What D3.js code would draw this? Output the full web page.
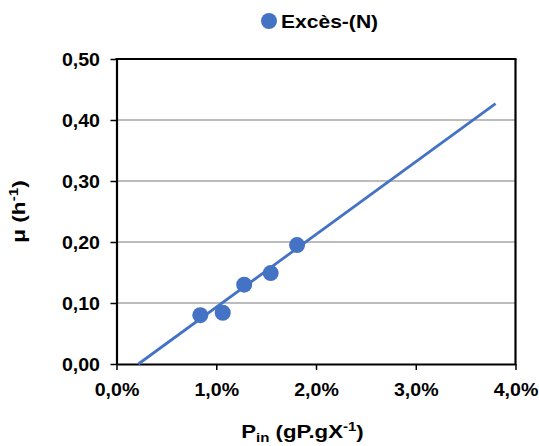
<!DOCTYPE html>
<html><head><meta charset="utf-8">
<script src="https://cdn.jsdelivr.net/npm/d3@7"></script>
<style>body{margin:0;background:#fff}svg{display:block}</style>
</head><body>
<script>
const pinX = [0.84, 1.065, 1.28, 1.546, 1.81];
const muY = [0.080, 0.084, 0.130, 0.149, 0.195];
const trendX = [0.219, 3.80];
const trendY = [0.0, 0.427];
const xTicks = [0, 1, 2, 3, 4];
const yTicks = [0, 0.1, 0.2, 0.3, 0.4, 0.5];
const seriesName = "Excès-(N)";

const W = 539, H = 446;
const m = {left: 116.5, right: 539 - 515.5, top: 59, bottom: 446 - 364};
const SX = 1.12;
const svg = d3.select("body").append("svg").attr("width", W).attr("height", H);
const x = d3.scaleLinear().domain([0, 4]).range([m.left, W - m.right]);
const y = d3.scaleLinear().domain([0, 0.5]).range([H - m.bottom, m.top]);
const font = "'Liberation Sans', Arial, sans-serif";
const blue = "#4472C4";

// gridlines
svg.append("g").selectAll("line").data(yTicks.filter(d => d > 0 && d < 0.5)).join("line")
  .attr("x1", x(0)).attr("x2", x(4)).attr("y1", d => y(d)).attr("y2", d => y(d))
  .attr("stroke", "#a6a6a6").attr("stroke-width", 1.3);

// axes
const fmtY = d => d3.format(".2f")(d).replace(".", ",");
const fmtX = d => d3.format(".1f")(d).replace(".", ",") + "%";
const gx = svg.append("g").attr("transform", `translate(0,${y(0)})`)
  .call(d3.axisBottom(x).tickValues(xTicks).tickFormat(fmtX).tickSize(6).tickSizeOuter(0));
const gy = svg.append("g").attr("transform", `translate(${x(0)},0)`)
  .call(d3.axisLeft(y).tickValues(yTicks).tickFormat(fmtY).tickSize(6).tickSizeOuter(0));
[gx, gy].forEach(g => {
  g.select(".domain").attr("stroke", "#000").attr("stroke-width", 2.2);
  g.selectAll(".tick line").attr("stroke", "#000").attr("stroke-width", 1.5);
  g.selectAll(".tick text").attr("fill", "#000").style("font-family", font)
    .style("font-size", "17.5px").style("font-weight", "bold")
    .attr("transform", `scale(${SX},1)`);
});
gx.selectAll(".tick text").attr("dy", 0).attr("y", 32);
gy.selectAll(".tick text").attr("x", -16.5 / SX).attr("dy", "0.35em");

// top and right frame
svg.append("line").attr("x1", x(0) - 1).attr("x2", x(4) + 1).attr("y1", y(0.5)).attr("y2", y(0.5))
  .attr("stroke", "#000").attr("stroke-width", 2.2);
svg.append("line").attr("x1", x(4)).attr("x2", x(4)).attr("y1", y(0.5)).attr("y2", y(0) + 1)
  .attr("stroke", "#000").attr("stroke-width", 2.2);

// trend line
svg.append("path").datum(trendX.map((d, i) => [d, trendY[i]]))
  .attr("d", d3.line().x(d => x(d[0])).y(d => y(d[1])))
  .attr("fill", "none").attr("stroke", blue).attr("stroke-width", 2.8);

// points
svg.append("g").selectAll("circle").data(pinX.map((d, i) => [d, muY[i]])).join("circle")
  .attr("cx", d => x(d[0])).attr("cy", d => y(d[1])).attr("r", 8).attr("fill", blue);

// legend
svg.append("circle").attr("cx", 269).attr("cy", 21).attr("r", 8).attr("fill", blue);
svg.append("g").attr("transform", `translate(281,27.5) scale(1.17,1)`)
  .append("text").text(seriesName)
  .style("font-family", font).style("font-size", "18px").style("font-weight", "bold");

// x title
const xt = svg.append("g").attr("transform", `translate(302.5,437.5) scale(1.2,1)`)
  .append("text").attr("text-anchor", "middle")
  .style("font-family", font).style("font-size", "18.5px").style("font-weight", "bold");
xt.append("tspan").text("P");
xt.append("tspan").attr("dy", 4).style("font-size", "12.5px").text("in");
xt.append("tspan").attr("dy", -4).text(" (gP.gX");
xt.append("tspan").attr("dy", -7).style("font-size", "12.5px").text("-1");
xt.append("tspan").attr("dy", 7).text(")");

// y title
const yt = svg.append("g").attr("transform", `translate(25,211.5) rotate(-90) scale(1.22,1)`)
  .append("text").attr("text-anchor", "middle")
  .style("font-family", font).style("font-size", "18.5px").style("font-weight", "bold");
yt.append("tspan").text("μ (h");
yt.append("tspan").attr("dy", -7).style("font-size", "12.5px").text("-1");
yt.append("tspan").attr("dy", 7).text(")");
</script>
</body></html>
